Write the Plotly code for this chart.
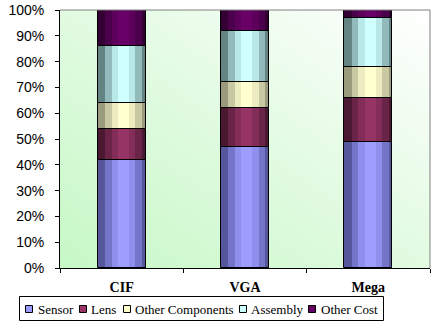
import base64
import plotly.graph_objects as go

categories = ["CIF", "VGA", "Mega"]
series_names = ["Sensor", "Lens", "Other Components", "Assembly", "Other Cost"]
sensor = [42, 47, 49]
lens = [12, 15, 17]
other_components = [10, 10, 12]
assembly = [22, 20, 19]
other_cost = [14, 8, 3]
series_values = [sensor, lens, other_components, assembly, other_cost]
y_ticks = [0, 10, 20, 30, 40, 50, 60, 70, 80, 90, 100]
y_tick_labels = ["0%", "10%", "20%", "30%", "40%", "50%", "60%", "70%", "80%", "90%", "100%"]

# shading colours per series: edge -> centre highlight (cylinder look)
shades = [
    ["#56569c", "#7474c8", "#8f8fee", "#9e9eff"],
    ["#4a1830", "#6a2447", "#852d59", "#963565"],
    ["#9a9a7c", "#c8c8a2", "#ececc0", "#ffffd0"],
    ["#648484", "#92baba", "#b8e8e8", "#cfffff"],
    ["#340034", "#4a004a", "#5c005c", "#680068"],
]
legend_colors = ["#9999ff", "#993366", "#ffffcc", "#ccffff", "#660066"]

svg = (
    '<svg xmlns="http://www.w3.org/2000/svg" width="200" height="200" preserveAspectRatio="none">'
    '<defs><linearGradient id="g" x1="0" y1="1" x2="1" y2="0">'
    '<stop offset="0" stop-color="#c6f8c6"/>'
    '<stop offset="0.55" stop-color="#e4fbe4"/>'
    '<stop offset="1" stop-color="#ffffff"/>'
    '</linearGradient></defs>'
    '<rect width="200" height="200" fill="url(#g)"/></svg>'
)
bg_uri = "data:image/svg+xml;base64," + base64.b64encode(svg.encode()).decode()

BAR_W = 0.39
layer_widths = [BAR_W, 0.30, 0.19, 0.09]
layer_shift = 0.015

fig = go.Figure()
bases = [0, 0, 0]
for name, vals, shade in zip(series_names, series_values, shades):
    for k, (w, col) in enumerate(zip(layer_widths, shade)):
        shift = 0 if k == 0 else layer_shift
        fig.add_trace(go.Bar(
            x=categories, y=vals, base=list(bases), name=name,
            width=w, offset=-w / 2 + shift,
            marker=dict(color=col, line=dict(width=0)),
            showlegend=False, hoverinfo="skip",
        ))
    fig.add_trace(go.Bar(
        x=categories, y=vals, base=list(bases), name=name,
        width=BAR_W, offset=-BAR_W / 2,
        marker=dict(color="rgba(0,0,0,0)", line=dict(color="#000000", width=1)),
        showlegend=False,
    ))
    bases = [b + v for b, v in zip(bases, vals)]

serif = "Liberation Serif, DejaVu Serif, serif"
sans = "Liberation Sans, DejaVu Sans, sans-serif"

# custom legend (pixel layout -> paper coords)
L, R, T, B = 60, 5, 10, 62
W, H = 435, 330
pw, ph = W - L - R, H - T - B
def px(x):
    return (x - L) / pw
def py(y):
    return (H - B - y) / ph

legend_sq_x = [25, 79, 123, 239, 308]
legend_txt_x = [36, 89, 133, 249, 319]
shapes = [
    dict(type="line", xref="paper", yref="paper", x0=0, x1=1, y0=1, y1=1,
         line=dict(color="#808080", width=1)),
    dict(type="line", xref="paper", yref="paper", x0=1, x1=1, y0=0, y1=1,
         line=dict(color="#808080", width=1)),
    dict(type="rect", xref="paper", yref="paper", x0=px(19.5), x1=px(383.5),
         y0=py(320.5), y1=py(296.5), line=dict(color="#000000", width=1),
         fillcolor="#ffffff"),
]
annotations = []
for name, col, sx, tx in zip(series_names, legend_colors, legend_sq_x, legend_txt_x):
    shapes.append(dict(type="rect", xref="paper", yref="paper",
                       x0=px(sx + 0.5), x1=px(sx + 7.5), y0=py(312.5), y1=py(305.5),
                       line=dict(color="#000000", width=1), fillcolor=col))
    annotations.append(dict(text=name, xref="paper", yref="paper", x=px(tx), y=py(309),
                            xanchor="left", yanchor="middle", showarrow=False,
                            font=dict(family=serif, size=13, color="#000000")))

fig.update_layout(
    width=W, height=H,
    barmode="overlay",
    bargap=0,
    showlegend=False,
    margin=dict(l=L, r=R, t=T, b=B, autoexpand=False),
    paper_bgcolor="#ffffff",
    plot_bgcolor="rgba(0,0,0,0)",
    font=dict(family=serif, color="#000000", size=14),
    images=[dict(source=bg_uri, xref="paper", yref="paper", x=0, y=1,
                 sizex=1, sizey=1, sizing="stretch", layer="below",
                 xanchor="left", yanchor="top")],
    xaxis=dict(
        type="category", showline=True, linecolor="#000000", linewidth=1,
        ticks="outside", tickson="boundaries", ticklen=4, tickcolor="#000000",
        tickfont=dict(family=serif, size=14, weight="bold"),
        showgrid=False, ticklabelstandoff=6, automargin=False,
    ),
    yaxis=dict(
        range=[0, 100], tickmode="array", tickvals=y_ticks, ticktext=y_tick_labels,
        showline=True, linecolor="#000000", linewidth=1,
        ticks="outside", ticklen=4, tickcolor="#000000",
        showgrid=False, zeroline=False,
        tickfont=dict(family=sans, size=14),
        ticklabelstandoff=8, automargin=False,
    ),
    shapes=shapes,
    annotations=annotations,
)

fig.write_html("out.html")
